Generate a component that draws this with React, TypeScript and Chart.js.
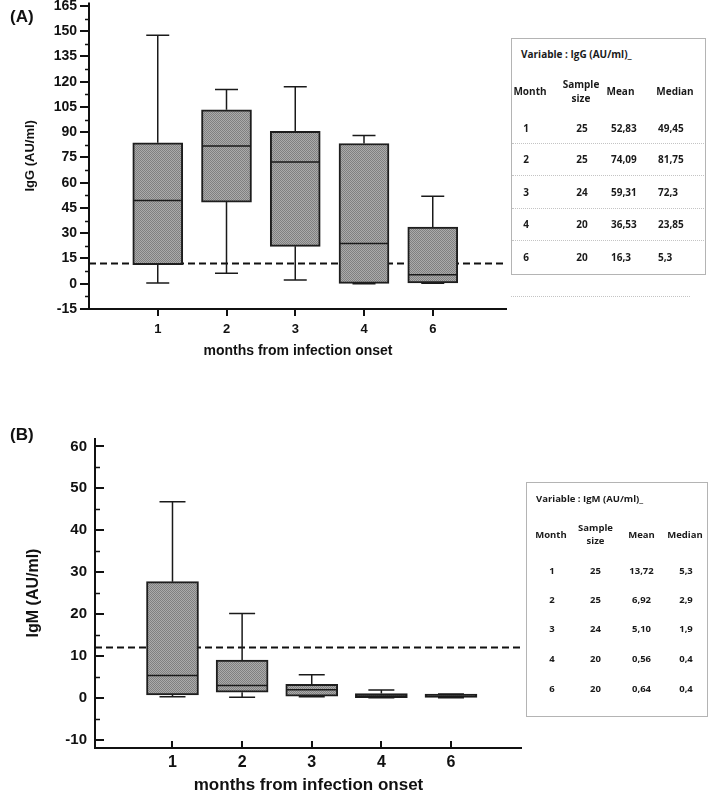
import React, { useEffect, useRef } from 'react';
import { Chart, registerables } from 'chart.js';

Chart.register(...registerables);

const FONT = '"Liberation Sans", Arial, Helvetica, sans-serif';
const TABLE_FONT = '"Open Sans", "Noto Sans", sans-serif';

// ---------- data ----------
const monthLabels = ['1', '2', '3', '4', '6'];
const monthPositions = [1, 2, 3, 4, 5];

// IgG (AU/ml) box plot statistics
const iggLow = [0.5, 6.2, 2.3, 0, 0.3];
const iggQ1 = [11.4, 48.5, 22.2, 0.2, 0.5];
const iggMedian = [49.45, 81.75, 72.3, 23.85, 5.3];
const iggQ3 = [83.7, 103.3, 90.5, 83.3, 33.7];
const iggHigh = [147.6, 115.4, 117, 88, 51.9];
const iggCutoff = 12;
const iggTicks = [-15, 0, 15, 30, 45, 60, 75, 90, 105, 120, 135, 150, 165];
const iggMinorTicks = [-7.5, 7.5, 22.5, 37.5, 52.5, 67.5, 82.5, 97.5, 112.5, 127.5, 142.5, 157.5];

// IgM (AU/ml) box plot statistics
const igmLow = [0.25, 0.1, 0.25, 0.0, 0.0];
const igmQ1 = [0.65, 1.3, 0.4, 0.0, 0.05];
const igmMedian = [5.3, 2.9, 1.9, 0.4, 0.4];
const igmQ3 = [27.7, 9.0, 3.2, 1.0, 0.9];
const igmHigh = [46.8, 20.1, 5.5, 1.85, 0.9];
const igmCutoff = 12;
const igmTicks = [-10, 0, 10, 20, 30, 40, 50, 60];
const igmMinorTicks = [-5, 5, 15, 25, 35, 45, 55];

// summary tables
const iggSampleSize = ['25', '25', '24', '20', '20'];
const iggMeanText = ['52,83', '74,09', '59,31', '36,53', '16,3'];
const iggMedianText = ['49,45', '81,75', '72,3', '23,85', '5,3'];
const igmSampleSize = ['25', '25', '24', '20', '20'];
const igmMeanText = ['13,72', '6,92', '5,10', '0,56', '0,64'];
const igmMedianText = ['5,3', '2,9', '1,9', '0,4', '0,4'];

interface PanelSpec {
  lo: number[]; q1: number[]; med: number[]; q3: number[]; hi: number[];
  cutoff: number;
  yMin: number; yMax: number; yTicks: number[]; yMinor: number[];
  xMin: number; xMax: number;
  yTitle: string; xTitle: string;
  yAxisWidth: number; xAxisHeight: number;
  padTop: number; padRight: number;
  boxWidth: number; capWidth: number;
  yTickFont: number; xTickFont: number; yTitleFont: number; xTitleFont: number; xTitleLineHeight: number;
  yLabelPad: number; xLabelPad: number; yTitlePad: number; xTitlePad: number;
  inward: boolean; majorLen: number; minorLen: number; xTickLen: number;
}

function makePattern(): CanvasPattern | string {
  const c = document.createElement('canvas');
  c.width = 2; c.height = 2;
  const g = c.getContext('2d');
  if (!g) return '#959595';
  g.fillStyle = '#ababab';
  g.fillRect(0, 0, 2, 2);
  g.fillStyle = '#808080';
  g.fillRect(0, 0, 1, 1);
  g.fillRect(1, 1, 1, 1);
  return g.createPattern(c, 'repeat') || '#959595';
}

function buildChart(canvas: HTMLCanvasElement, s: PanelSpec): Chart {
  const plugin = {
    id: 'boxplotExtras',
    beforeDatasetsDraw(chart: any) {
      const { ctx, chartArea: a } = chart;
      const y = chart.scales.y;
      const py = y.getPixelForValue(s.cutoff);
      ctx.save();
      ctx.strokeStyle = '#111';
      ctx.lineWidth = 2;
      ctx.setLineDash([7, 4]);
      ctx.beginPath();
      ctx.moveTo(a.left, py);
      ctx.lineTo(a.right, py);
      ctx.stroke();
      ctx.restore();
    },
    afterDatasetsDraw(chart: any) {
      const { ctx } = chart;
      const x = chart.scales.x;
      const y = chart.scales.y;
      ctx.save();
      ctx.strokeStyle = '#1a1a1a';
      ctx.lineWidth = 1.5;
      monthPositions.forEach((p, i) => {
        const px = x.getPixelForValue(p);
        const yq1 = y.getPixelForValue(s.q1[i]);
        const yq3 = y.getPixelForValue(s.q3[i]);
        const ylo = y.getPixelForValue(s.lo[i]);
        const yhi = y.getPixelForValue(s.hi[i]);
        const ymed = y.getPixelForValue(s.med[i]);
        const cw = s.capWidth / 2;
        const bw = s.boxWidth / 2;
        ctx.beginPath();
        ctx.moveTo(px, yq3); ctx.lineTo(px, yhi);
        ctx.moveTo(px - cw, yhi); ctx.lineTo(px + cw, yhi);
        ctx.moveTo(px, yq1); ctx.lineTo(px, ylo);
        ctx.moveTo(px - cw, ylo); ctx.lineTo(px + cw, ylo);
        ctx.stroke();
        ctx.beginPath();
        ctx.moveTo(px - bw + 1, ymed); ctx.lineTo(px + bw - 1, ymed);
        ctx.stroke();
      });
      ctx.restore();
    },
    afterDraw(chart: any) {
      const { ctx, chartArea: a } = chart;
      const x = chart.scales.x;
      const y = chart.scales.y;
      const dir = s.inward ? 1 : -1;
      ctx.save();
      ctx.strokeStyle = '#111';
      ctx.setLineDash([]);
      ctx.lineWidth = 2;
      ctx.beginPath();
      ctx.moveTo(a.left, a.top);
      ctx.lineTo(a.left, a.bottom + 1);
      ctx.moveTo(a.left - 1, a.bottom);
      ctx.lineTo(a.right, a.bottom);
      ctx.stroke();
      ctx.beginPath();
      s.yTicks.forEach((v) => {
        const py = Math.round(y.getPixelForValue(v));
        ctx.moveTo(a.left, py);
        ctx.lineTo(a.left + dir * s.majorLen, py);
      });
      monthPositions.forEach((p) => {
        const px = Math.round(x.getPixelForValue(p));
        ctx.moveTo(px, a.bottom);
        ctx.lineTo(px, a.bottom - dir * s.xTickLen);
      });
      ctx.stroke();
      ctx.lineWidth = 1.5;
      ctx.beginPath();
      s.yMinor.forEach((v) => {
        const py = Math.round(y.getPixelForValue(v)) + 0.5;
        ctx.moveTo(a.left, py);
        ctx.lineTo(a.left + dir * s.minorLen, py);
      });
      ctx.stroke();
      ctx.restore();
    },
  };

  const pattern = makePattern();

  return new Chart(canvas, {
    type: 'bar',
    data: {
      datasets: [
        {
          data: monthPositions.map((p, i) => ({ x: p, y: [s.q1[i], s.q3[i]] })) as any,
          backgroundColor: pattern as any,
          borderColor: '#1e1e1e',
          borderWidth: 2,
          borderSkipped: false,
          barThickness: s.boxWidth,
        },
      ],
    },
    options: {
      responsive: false,
      animation: false,
      events: [],
      layout: { padding: { top: s.padTop, right: s.padRight, bottom: 0, left: 0 } },
      plugins: { legend: { display: false }, tooltip: { enabled: false } },
      scales: {
        x: {
          type: 'linear',
          min: s.xMin,
          max: s.xMax,
          offset: false,
          grid: { display: false, drawTicks: false },
          border: { display: false },
          afterBuildTicks: (sc: any) => {
            sc.ticks = monthPositions.map((v) => ({ value: v }));
          },
          afterFit: (sc: any) => {
            sc.height = s.xAxisHeight;
            sc.paddingLeft = 0; sc.paddingRight = 0; sc.paddingTop = 0; sc.paddingBottom = 0;
          },
          ticks: {
            padding: s.xLabelPad,
            color: '#111',
            maxRotation: 0,
            autoSkip: false,
            font: { family: FONT, size: s.xTickFont, weight: 'bold' },
            callback: (v: any) => {
              const i = monthPositions.indexOf(Number(v));
              return i >= 0 ? monthLabels[i] : '';
            },
          },
          title: {
            display: true,
            text: s.xTitle,
            color: '#111',
            padding: { top: 0, bottom: s.xTitlePad },
            font: { family: FONT, size: s.xTitleFont, weight: 'bold', lineHeight: s.xTitleLineHeight },
          },
        },
        y: {
          type: 'linear',
          min: s.yMin,
          max: s.yMax,
          grid: { display: false, drawTicks: false },
          border: { display: false },
          afterBuildTicks: (sc: any) => {
            sc.ticks = s.yTicks.map((v) => ({ value: v }));
          },
          afterFit: (sc: any) => {
            sc.width = s.yAxisWidth;
            sc.paddingLeft = 0; sc.paddingRight = 0; sc.paddingTop = 0; sc.paddingBottom = 0;
          },
          ticks: {
            padding: s.yLabelPad,
            color: '#111',
            autoSkip: false,
            font: { family: FONT, size: s.yTickFont, weight: 'bold' },
          },
          title: {
            display: true,
            text: s.yTitle,
            color: '#111',
            padding: { top: s.yTitlePad, bottom: 0 },
            font: { family: FONT, size: s.yTitleFont, weight: 'bold', lineHeight: 1.2 },
          },
        },
      },
    } as any,
    plugins: [plugin as any],
  });
}

const iggSpec: PanelSpec = {
  lo: iggLow, q1: iggQ1, med: iggMedian, q3: iggQ3, hi: iggHigh,
  cutoff: iggCutoff,
  yMin: -15, yMax: 167, yTicks: iggTicks, yMinor: iggMinorTicks,
  xMin: 0, xMax: 6.08,
  yTitle: 'IgG (AU/ml)', xTitle: 'months from infection onset',
  yAxisWidth: 89, xAxisHeight: 53,
  padTop: 2.6, padRight: 13,
  boxWidth: 50, capWidth: 23,
  yTickFont: 14, xTickFont: 13, yTitleFont: 13, xTitleFont: 14, xTitleLineHeight: 1.2,
  yLabelPad: 12, xLabelPad: 13, yTitlePad: 23, xTitlePad: 2,
  inward: false, majorLen: 9, minorLen: 4, xTickLen: 7,
};

const igmSpec: PanelSpec = {
  lo: igmLow, q1: igmQ1, med: igmMedian, q3: igmQ3, hi: igmHigh,
  cutoff: igmCutoff,
  yMin: -12, yMax: 62, yTicks: igmTicks, yMinor: igmMinorTicks,
  xMin: -0.113, xMax: 6.02,
  yTitle: 'IgM (AU/ml)', xTitle: 'months from infection onset',
  yAxisWidth: 95, xAxisHeight: 46,
  padTop: 38, padRight: 4,
  boxWidth: 52, capWidth: 26,
  yTickFont: 15, xTickFont: 16, yTitleFont: 16, xTitleFont: 17, xTitleLineHeight: 1,
  yLabelPad: 8, xLabelPad: 5, yTitlePad: 24, xTitlePad: 0,
  inward: true, majorLen: 9, minorLen: 5, xTickLen: 7,
};

// ---------- table rendering ----------
type Align = 'left' | 'center';

function Txt(props: { x: number; y: number; align: Align; size: number; children: React.ReactNode }) {
  const lh = Math.round(props.size * 1.3);
  const base: React.CSSProperties = {
    position: 'absolute',
    top: props.y - lh / 2,
    height: lh,
    lineHeight: lh + 'px',
    fontSize: props.size,
    fontWeight: 700,
    whiteSpace: 'nowrap',
    color: '#1a1a1a',
    fontFamily: TABLE_FONT,
  };
  if (props.align === 'center') {
    return <div style={{ ...base, left: props.x - 60, width: 120, textAlign: 'center' }}>{props.children}</div>;
  }
  return <div style={{ ...base, left: props.x }}>{props.children}</div>;
}

interface TableSpec {
  left: number; top: number; width: number; height: number;
  title: string; titleX: number; titleY: number;
  size: number;
  headerY: number; sampleY1: number; sampleY2: number;
  headerX: number[];
  rowY: number[];
  colX: number[]; colAlign: Align[];
  columns: string[][];
  separators: number[]; sepLeft: number; sepRight: number;
}

function SummaryTable({ t }: { t: TableSpec }) {
  return (
    <>
      <div
        style={{
          position: 'absolute', left: t.left, top: t.top, width: t.width, height: t.height,
          border: '1px solid #b4b4b4', boxSizing: 'border-box', background: '#fff',
        }}
      />
      {t.separators.map((sy, i) => (
        <div key={'s' + i} style={{ position: 'absolute', left: t.sepLeft, top: sy, width: t.sepRight - t.sepLeft, height: 0, borderTop: '1px dotted #c4c4c4' }} />
      ))}
      <Txt x={t.titleX} y={t.titleY} align="left" size={t.size}>{t.title}</Txt>
      <Txt x={t.headerX[0]} y={t.headerY} align="center" size={t.size}>Month</Txt>
      <Txt x={t.headerX[1]} y={t.sampleY1} align="center" size={t.size}>Sample</Txt>
      <Txt x={t.headerX[1]} y={t.sampleY2} align="center" size={t.size}>size</Txt>
      <Txt x={t.headerX[2]} y={t.headerY} align="center" size={t.size}>Mean</Txt>
      <Txt x={t.headerX[3]} y={t.headerY} align="center" size={t.size}>Median</Txt>
      {t.rowY.map((ry, r) =>
        t.columns.map((col, c) => (
          <Txt key={r + '-' + c} x={t.colX[c]} y={ry} align={t.colAlign[c]} size={t.size}>{col[r]}</Txt>
        ))
      )}
    </>
  );
}

const iggTable: TableSpec = {
  left: 511, top: 38, width: 195, height: 237,
  title: 'Variable : IgG (AU/ml)_', titleX: 521, titleY: 54,
  size: 10,
  headerY: 91, sampleY1: 84, sampleY2: 98,
  headerX: [530, 581, 620.5, 675],
  rowY: [128, 159.5, 192, 224.5, 257],
  colX: [526, 582, 611, 658], colAlign: ['center', 'center', 'left', 'left'],
  columns: [monthLabels, iggSampleSize, iggMeanText, iggMedianText],
  separators: [143, 175, 208, 240], sepLeft: 512, sepRight: 704,
};

const igmTable: TableSpec = {
  left: 526, top: 482, width: 182, height: 235,
  title: 'Variable : IgM (AU/ml)_', titleX: 536, titleY: 499,
  size: 9.5,
  headerY: 535, sampleY1: 528, sampleY2: 541,
  headerX: [551, 595.5, 641.5, 685],
  rowY: [571, 600, 629, 659, 689],
  colX: [552, 595.5, 641.5, 686], colAlign: ['center', 'center', 'center', 'center'],
  columns: [monthLabels, igmSampleSize, igmMeanText, igmMedianText],
  separators: [], sepLeft: 0, sepRight: 0,
};

export default function App() {
  const ref1 = useRef<HTMLCanvasElement | null>(null);
  const ref2 = useRef<HTMLCanvasElement | null>(null);

  useEffect(() => {
    const charts: Chart[] = [];
    if (ref1.current) charts.push(buildChart(ref1.current, iggSpec));
    if (ref2.current) charts.push(buildChart(ref2.current, igmSpec));
    return () => charts.forEach((c) => c.destroy());
  }, []);

  const panelLabel: React.CSSProperties = {
    position: 'absolute', fontFamily: FONT, fontWeight: 700, fontSize: 17, color: '#111',
    lineHeight: '20px', height: 20,
  };

  return (
    <div style={{ position: 'absolute', left: 0, top: 0, width: 709, height: 794, overflow: 'hidden', background: '#fff' }}>
      <canvas ref={ref1} width={520} height={362} style={{ position: 'absolute', left: 0, top: 0, width: 520, height: 362 }} />
      <canvas ref={ref2} width={526} height={394} style={{ position: 'absolute', left: 0, top: 400, width: 526, height: 394 }} />
      <div style={{ ...panelLabel, left: 10, top: 7 }}>(A)</div>
      <div style={{ ...panelLabel, left: 10, top: 425 }}>(B)</div>
      <SummaryTable t={iggTable} />
      <div style={{ position: 'absolute', left: 511, top: 296, width: 179, height: 0, borderTop: '1px dotted #c4c4c4' }} />
      <SummaryTable t={igmTable} />
    </div>
  );
}
